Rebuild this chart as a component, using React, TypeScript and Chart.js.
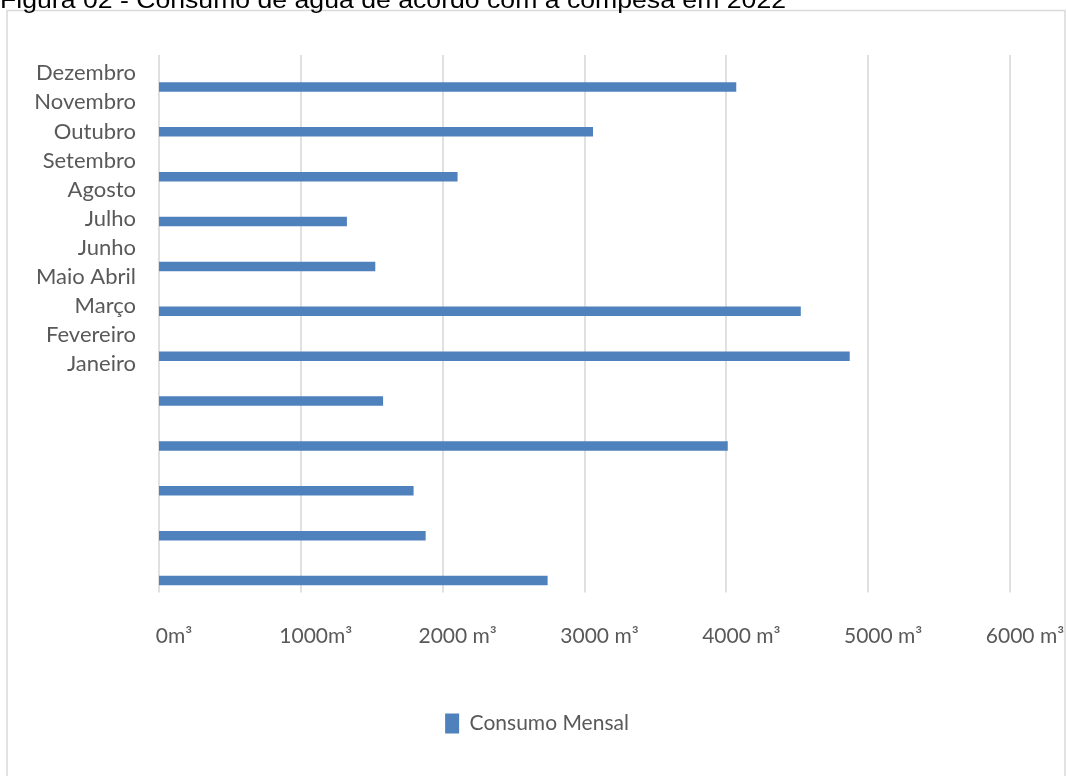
import React, { useEffect, useRef } from "react";
import { Chart, registerables } from "chart.js";

Chart.register(...registerables);

// ---- data ----
const months = ["Janeiro", "Fevereiro", "Março", "Abril", "Maio", "Junho", "Julho", "Agosto", "Setembro", "Outubro", "Novembro", "Dezembro"];
const consumo = [2740, 1880, 1795, 4010, 1580, 4870, 4525, 1525, 1325, 2105, 3060, 4070];
const sideLabels = ["Dezembro", "Novembro", "Outubro", "Setembro", "Agosto", "Julho", "Junho", "Maio Abril", "Março", "Fevereiro", "Janeiro"];
const xTickLabels = ["0m³", "1000m³", "2000 m³", "3000 m³", "4000 m³", "5000 m³", "6000 m³"];
const seriesName = "Consumo Mensal";
const titleText = "Figura 02 - Consumo de água de acordo com a compesa em 2022";

const GRID = "#d9d9d9";
const TEXT = "#595959";
const BAR = "#4F81BD";

const decor = {
  id: "decor",
  beforeDraw(chart: any) {
    const ctx = chart.ctx as CanvasRenderingContext2D;
    const { top, bottom } = chart.chartArea;
    ctx.save();
    ctx.fillStyle = "#ffffff";
    ctx.fillRect(0, 0, chart.width, chart.height);

    // frame
    ctx.strokeStyle = GRID;
    ctx.lineWidth = 1.5;
    ctx.strokeRect(7, 10.5, 1058, 900);

    // title (cropped at top)
    ctx.fillStyle = "#000000";
    ctx.font = "24px 'Liberation Sans', Arial, sans-serif";
    ctx.textBaseline = "alphabetic";
    ctx.textAlign = "left";
    const w = ctx.measureText(titleText).width;
    ctx.save();
    ctx.translate(0, 8);
    ctx.scale(786 / w, 1);
    ctx.fillText(titleText, 0, 0);
    ctx.restore();

    // vertical gridlines
    const xs = chart.scales.x;
    ctx.strokeStyle = GRID;
    ctx.lineWidth = 1.6;
    xs.ticks.forEach((_t: any, i: number) => {
      const px = Math.round(xs.getPixelForTick(i));
      ctx.beginPath();
      ctx.moveTo(px, top - 9.5);
      ctx.lineTo(px, bottom - 10.5);
      ctx.stroke();
    });

    // side label column
    ctx.fillStyle = TEXT;
    ctx.font = "22px Lato, 'Open Sans', sans-serif";
    ctx.textAlign = "right";
    ctx.textBaseline = "middle";
    sideLabels.forEach((s, i) => {
      ctx.fillText(s, 136, 73.3 + i * 29.07);
    });
    ctx.restore();
  },
};

export default function App() {
  const ref = useRef<HTMLCanvasElement>(null);
  useEffect(() => {
    if (!ref.current) return;
    const chart = new Chart(ref.current, {
      type: "bar",
      data: {
        labels: months,
        datasets: [
          {
            label: seriesName,
            data: consumo,
            backgroundColor: BAR,
            borderWidth: 0,
            barPercentage: 0.21,
            categoryPercentage: 1,
          },
        ],
      },
      options: {
        indexAxis: "y",
        animation: false,
        responsive: false,
        maintainAspectRatio: false,
        layout: { padding: { top: 64.5, right: 57, left: 64, bottom: 32 } },
        scales: {
          y: {
            reverse: true,
            grid: { display: false, drawTicks: false },
            border: { display: false },
            ticks: { display: false },
            afterFit: (s: any) => {
              s.width = 95;
              s.paddingTop = 0;
              s.paddingBottom = 0;
            },
          },
          x: {
            min: 0,
            max: 6000,
            grid: { display: false, drawTicks: false },
            border: { display: false },
            ticks: {
              stepSize: 1000,
              maxRotation: 0,
              autoSkip: false,
              padding: 21,
              labelOffset: 15,
              color: TEXT,
              font: { family: "Lato", size: 21 },
              callback: (_v: any, i: number) => xTickLabels[i],
            },
            afterFit: (s: any) => {
              s.height = 100;
              s.paddingLeft = 0;
              s.paddingRight = 0;
            },
          },
        },
        plugins: {
          legend: {
            position: "bottom",
            labels: {
              boxWidth: 14,
              boxHeight: 20,
              color: TEXT,
              font: { family: "Lato", size: 21 },
              padding: 10,
            },
          },
          tooltip: { enabled: false },
          title: { display: false },
        },
      },
      plugins: [decor],
    });
    return () => chart.destroy();
  }, []);
  return (
    <div style={{ position: "fixed", left: 0, top: 0, width: 1067, height: 776 }}>
      <canvas ref={ref} width={1067} height={776} style={{ width: 1067, height: 776 }} />
    </div>
  );
}
